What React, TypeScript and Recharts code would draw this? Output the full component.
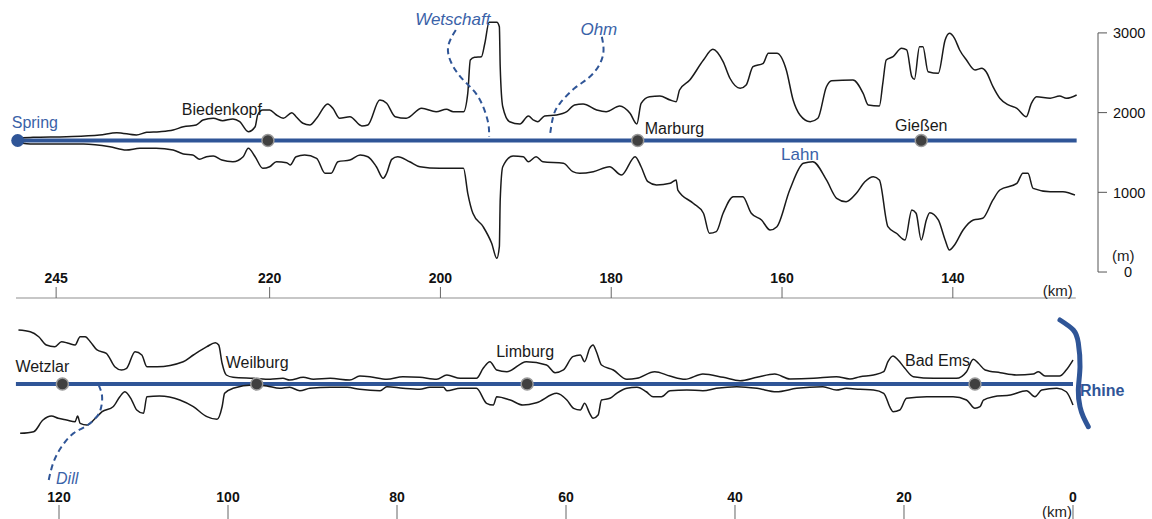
import { ComposedChart, Line, ReferenceDot, ReferenceLine, XAxis, YAxis } from 'recharts'

type Pt = [number, number] // [river km, metres]

const CENTER_M = 1650

// upper Lahn, km 249.5 (spring) down to km 125.5
const upperLeftBank: Pt[] = [
  [249.5, 1678], [247.7, 1690], [243.8, 1698], [239.9, 1719], [237.9, 1748], [235.6, 1719], [234.4, 1753],
  [232.9, 1761], [231.3, 1782], [230.1, 1823], [228.6, 1845], [227.8, 1907], [226.6, 1929], [225.5, 1899],
  [224.3, 1920], [223.5, 1886], [222.5, 1761], [221.7, 1823], [221.4, 1970], [220.8, 2033], [220.0, 2033],
  [219.2, 1970], [218.4, 1929], [217.4, 1999], [216.9, 1949], [216.1, 1866], [215.3, 1845], [214.5, 1929],
  [213.2, 2108], [212.6, 2054], [211.8, 1929], [210.6, 1949], [209.2, 1832], [208.5, 1845], [207.1, 2158],
  [206.3, 2117], [205.3, 1949], [204.0, 1929], [202.2, 2054], [200.5, 2011], [199.3, 2042], [198.5, 2011],
  [197.3, 2011], [196.8, 2242], [196.5, 2660], [196.0, 2694], [195.2, 2702], [194.8, 2870], [194.3, 3133],
  [193.4, 3133], [193.1, 3078], [193.0, 2576], [192.7, 2074], [191.9, 1886], [190.7, 1857], [189.7, 1958],
  [189.1, 1907], [188.6, 1886], [187.8, 1958], [186.4, 1970], [185.2, 2011], [184.3, 2096], [183.3, 2108],
  [181.7, 2033], [180.6, 2011], [179.0, 2083], [177.8, 1991], [177.0, 1857], [176.5, 2117], [175.5, 2200],
  [174.3, 2208], [173.1, 2158], [172.4, 2137], [172.0, 2284], [170.8, 2409], [169.2, 2660], [168.1, 2794],
  [166.9, 2639], [166.1, 2431], [164.9, 2305], [164.2, 2347], [163.4, 2576], [162.2, 2619], [161.6, 2744],
  [160.6, 2744], [159.5, 2535], [158.7, 2158], [157.9, 1970], [156.7, 1886], [155.8, 1929], [154.8, 2325],
  [154.2, 2400], [151.7, 2409], [150.5, 2242], [149.9, 2096], [148.6, 2083], [148.2, 2368], [147.8, 2660],
  [147.0, 2702], [146.0, 2807], [145.4, 2786], [144.8, 2451], [144.5, 2418], [143.9, 2827], [143.5, 2827],
  [142.9, 2513], [141.7, 2493], [140.9, 2911], [140.4, 2995], [139.8, 2932], [139.2, 2786], [138.4, 2660],
  [137.4, 2535], [136.6, 2556], [136.1, 2513], [135.3, 2325], [134.5, 2180], [133.5, 2096], [132.5, 2054],
  [131.4, 1949], [130.8, 2117], [130.2, 2200], [128.6, 2180], [127.5, 2208], [126.7, 2180], [125.5, 2221],
]

const upperRightBank: Pt[] = [
  [249.5, 1623], [247.7, 1606], [241.8, 1606], [238.7, 1572], [236.8, 1531], [235.2, 1552], [233.3, 1552],
  [231.3, 1531], [230.1, 1481], [229.0, 1468], [228.2, 1414], [227.4, 1447], [226.6, 1456], [225.6, 1405],
  [224.3, 1384], [223.1, 1447], [222.5, 1552], [221.7, 1447], [220.8, 1301], [220.0, 1321], [219.2, 1384],
  [218.0, 1372], [217.6, 1343], [216.9, 1447], [215.9, 1468], [214.5, 1427], [213.5, 1239], [212.8, 1239],
  [212.0, 1384], [210.6, 1405], [209.4, 1468], [208.5, 1447], [207.5, 1321], [206.7, 1176], [206.3, 1239],
  [205.7, 1414], [205.0, 1447], [203.6, 1384], [202.4, 1321], [200.1, 1301], [197.3, 1301], [196.8, 988],
  [196.2, 737], [195.0, 569], [194.0, 360], [193.4, 172], [193.1, 318], [193.0, 904], [192.7, 1321],
  [191.5, 1456], [190.3, 1447], [189.7, 1384], [188.8, 1447], [188.0, 1384], [185.6, 1364], [184.5, 1259],
  [183.7, 1239], [182.1, 1259], [180.2, 1321], [178.8, 1217], [177.2, 1447], [176.5, 1321], [175.7, 1133],
  [174.7, 1092], [173.1, 1113], [172.4, 1155], [172.2, 1029], [170.4, 862], [169.2, 737], [168.5, 486],
  [167.7, 506], [166.9, 737], [165.7, 945], [164.6, 945], [163.6, 737], [162.4, 653], [161.4, 527],
  [160.6, 569], [159.1, 1029], [157.5, 1364], [156.4, 1384], [154.8, 1155], [153.6, 925], [152.5, 882],
  [151.3, 988], [150.3, 1133], [149.3, 1196], [148.6, 1155], [147.6, 569], [146.6, 486], [145.6, 402],
  [144.8, 778], [144.3, 737], [143.7, 402], [143.1, 653], [142.7, 744], [141.7, 653], [140.9, 402],
  [140.4, 276], [139.8, 339], [138.8, 527], [137.6, 653], [136.5, 674], [135.3, 904], [134.5, 1029],
  [132.5, 1113], [131.8, 1239], [131.2, 1239], [130.6, 1050], [128.6, 1008], [127.1, 1008], [126.3, 988],
  [125.7, 966],
]

// lower Lahn, km 125 down to the Rhine
const lowerLeftBank: Pt[] = [
  [124.8, 2327], [123.4, 2306], [122.4, 2243], [121.5, 2139], [120.5, 2118], [119.7, 2181], [118.9, 2161],
  [118.1, 2139], [117.5, 2243], [116.9, 2243], [116.3, 2181], [115.5, 2077], [114.4, 2035], [113.4, 1867],
  [112.6, 1826], [112.0, 1847], [111.0, 2055], [110.2, 2014], [109.6, 1867], [108.4, 1867], [105.3, 1930],
  [104.1, 2014], [102.5, 2118], [101.5, 2168], [101.1, 2139], [100.7, 1910], [100.2, 1763], [99.4, 1734],
  [97.0, 1721], [95.0, 1709], [93.5, 1721], [92.7, 1700], [91.1, 1734], [89.9, 1709], [87.9, 1721],
  [85.6, 1700], [84.4, 1750], [83.2, 1742], [81.2, 1709], [79.3, 1742], [77.3, 1734], [75.3, 1709],
  [74.1, 1763], [72.5, 1721], [70.6, 1721], [69.8, 1847], [69.0, 1930], [68.2, 1826], [67.0, 1804],
  [64.7, 1930], [62.3, 1888], [61.3, 1792], [60.3, 1826], [59.2, 1993], [58.3, 2014], [57.8, 1930],
  [57.2, 2098], [56.8, 2139], [56.4, 2055], [55.8, 1888], [54.4, 1826], [52.8, 1709], [51.6, 1721],
  [49.5, 1804], [47.7, 1750], [45.9, 1709], [43.8, 1775], [41.4, 1734], [39.4, 1691], [37.4, 1734],
  [35.3, 1775], [33.5, 1713], [30.7, 1721], [28.0, 1742], [26.4, 1713], [25.2, 1742], [23.6, 1763],
  [22.4, 1804], [21.9, 1930], [21.3, 2001], [20.7, 1951], [19.9, 1847], [18.9, 1742], [16.5, 1721],
  [13.8, 1721], [12.6, 1804], [11.8, 1960], [11.2, 1910], [10.4, 1826], [8.6, 1792], [6.7, 1763],
  [4.7, 1775], [4.1, 1804], [3.3, 1750], [1.6, 1750], [0.8, 1826], [0.0, 1951],
]

const lowerRightBank: Pt[] = [
  [124.6, 1031], [123.0, 1052], [121.9, 1198], [120.9, 1248], [120.1, 1220], [119.1, 1198], [118.1, 1177],
  [117.8, 1248], [117.5, 1157], [116.7, 1136], [115.7, 1220], [114.9, 1303], [113.6, 1365], [112.8, 1491],
  [112.2, 1553], [111.4, 1449], [110.8, 1324], [110.0, 1282], [109.6, 1491], [108.1, 1499], [105.7, 1449],
  [104.1, 1365], [102.5, 1240], [101.3, 1207], [100.7, 1365], [100.4, 1533], [99.4, 1596], [97.0, 1637],
  [95.4, 1625], [93.9, 1596], [92.7, 1609], [91.5, 1566], [90.3, 1596], [87.9, 1609], [85.9, 1609],
  [84.4, 1583], [82.0, 1566], [81.2, 1616], [79.3, 1596], [77.3, 1583], [76.1, 1609], [74.5, 1609],
  [74.1, 1566], [72.5, 1596], [70.6, 1596], [69.4, 1408], [68.6, 1386], [68.2, 1491], [66.6, 1449],
  [65.1, 1386], [63.5, 1415], [61.1, 1533], [59.9, 1449], [59.1, 1345], [58.3, 1324], [57.8, 1408],
  [57.2, 1282], [56.8, 1220], [56.2, 1261], [55.8, 1449], [54.8, 1471], [54.0, 1533], [52.8, 1596],
  [51.6, 1609], [50.5, 1553], [49.7, 1491], [48.7, 1491], [47.7, 1566], [45.7, 1575], [43.8, 1566],
  [42.2, 1596], [39.8, 1616], [37.4, 1596], [35.1, 1553], [32.7, 1596], [29.6, 1616], [28.0, 1575],
  [26.8, 1596], [25.2, 1583], [23.6, 1575], [22.4, 1533], [21.6, 1345], [21.3, 1303], [20.5, 1324],
  [19.7, 1471], [17.3, 1491], [14.2, 1491], [12.6, 1449], [11.6, 1345], [11.0, 1365], [10.6, 1449],
  [9.4, 1491], [7.4, 1512], [5.5, 1566], [4.5, 1491], [3.7, 1575], [1.9, 1596], [0.8, 1553], [0.0, 1386],
]

// tributaries and the Rhine, drawn in the same km / m units
const wetschaft: Pt[] = [
  [198.2, 3036], [199.1, 2827], [198.7, 2619], [197.5, 2430], [196.0, 2262], [195.0, 2074], [194.4, 1866], [194.3, 1698],
]
const ohm: Pt[] = [
  [181.1, 2952], [180.9, 2785], [181.3, 2619], [182.5, 2450], [184.3, 2305], [186.0, 2117], [186.8, 1949], [187.2, 1698],
]
const dill: Pt[] = [
  [115.3, 1637], [114.9, 1490], [115.1, 1324], [115.7, 1220], [116.9, 1114], [118.3, 1031], [119.7, 863], [120.7, 655], [121.3, 404],
]
const rhine: Pt[] = [
  [1.54, 2453], [-0.04, 2328], [-0.63, 2165], [-0.83, 1867], [-0.63, 1575], [-0.83, 1365], [-1.22, 1240], [-1.81, 1114],
]

const SPRING_KM = 249.5
const UPPER_END_KM = 125.5
const LOWER_START_KM = 125.1
const MOUTH_KM = 0

const upperTicks = [245, 220, 200, 180, 160, 140]
const lowerTicks = [120, 100, 80, 60, 40, 20, 0]
const heightTicks = [0, 1000, 2000, 3000]

const upperTowns = [
  { name: 'Biedenkopf', km: 220.2 },
  { name: 'Marburg', km: 176.9 },
  { name: 'Gießen', km: 143.7 },
]
const lowerTowns = [
  { name: 'Wetzlar', km: 119.6 },
  { name: 'Weilburg', km: 96.6 },
  { name: 'Limburg', km: 64.6 },
  { name: 'Bad Ems', km: 11.6 },
]

const labelPos: Record<string, { dx: number; dy: number; anchor: string }> = {
  Biedenkopf: { dx: -6, dy: -26, anchor: 'end' },
  Marburg: { dx: 7, dy: -6.5, anchor: 'start' },
  Gießen: { dx: 0, dy: -10, anchor: 'middle' },
  Wetzlar: { dx: -47, dy: -12, anchor: 'start' },
  Weilburg: { dx: -31, dy: -16, anchor: 'start' },
  Limburg: { dx: -2, dy: -27, anchor: 'middle' },
  'Bad Ems': { dx: -5, dy: -18, anchor: 'end' },
}

const FONT = '"Liberation Sans", Arial, sans-serif'
const BLUE = '#2f5597'
const BLUE_TEXT = '#3a62a8'
const INK = '#1a1a1a'

const rows = (pts: Pt[]) => pts.map(([km, m]) => ({ km, m }))

type MarkOpts = {
  text?: string
  dx?: number
  dy?: number
  anchor?: string
  dot?: 'town' | 'spring'
  color?: string
  size?: number
  italic?: boolean
  bold?: boolean
}

function mark(o: MarkOpts) {
  return (p: any) => (
    <g>
      {o.dot === 'town' && <circle cx={p.cx} cy={p.cy} r={6} fill="#404040" stroke="#9a9a9a" strokeWidth={1.5} />}
      {o.dot === 'spring' && <circle cx={p.cx} cy={p.cy} r={6.5} fill={BLUE} />}
      {o.text && (
        <text
          x={p.cx + (o.dx ?? 0)}
          y={p.cy + (o.dy ?? 0)}
          textAnchor={o.anchor ?? 'middle'}
          fill={o.color ?? INK}
          fontSize={o.size ?? 16}
          fontStyle={o.italic ? 'italic' : 'normal'}
          fontWeight={o.bold ? 'bold' : 'normal'}
          fontFamily={FONT}
        >
          {o.text}
        </text>
      )}
    </g>
  )
}

// km ticks: top panel has its labels above the axis, ticks pointing up
function KmTickUp(props: any) {
  const { x, y, payload } = props
  return (
    <g>
      <line x1={x} x2={x} y1={y} y2={y - 11} stroke="#666" strokeWidth={1} />
      <text x={x} y={y - 15} textAnchor="middle" fontSize={14} fontWeight="bold" fill="#111" fontFamily={FONT}>
        {payload.value}
      </text>
    </g>
  )
}

// bottom panel: label on top, tick hanging below
function KmTickDown(props: any) {
  const { x, y, payload } = props
  return (
    <g>
      <line x1={x} x2={x} y1={y} y2={y + 14} stroke="#666" strokeWidth={1} />
      <text x={x} y={y - 3} textAnchor="middle" fontSize={14} fontWeight="bold" fill="#111" fontFamily={FONT}>
        {payload.value}
      </text>
    </g>
  )
}

function HeightTick(props: any) {
  const { x, y, payload } = props
  return (
    <text x={x + (payload.value === 0 ? 11 : 0)} y={y} dy="0.36em" textAnchor="start" fontSize={14.5} fill="#111" fontFamily={FONT}>
      {payload.value}
    </text>
  )
}

export default function App() {
  return (
    <div style={{ width: 1152, height: 519, fontFamily: FONT, background: '#fff' }}>
      <style>{'body{margin:0}'}</style>

      <ComposedChart width={1152} height={300} margin={{ top: 0, right: 0, bottom: 1, left: 16 }}>
        <XAxis
          type="number"
          dataKey="km"
          domain={[123.0, 249.7]}
          reversed
          allowDataOverflow
          ticks={upperTicks}
          interval={0}
          axisLine={false}
          tickLine={false}
          tickSize={0}
          tickMargin={0}
          height={1}
          tick={(p: any) => <KmTickUp {...p} />}
        />
        <YAxis
          orientation="right"
          type="number"
          domain={[-326, 3413]}
          allowDataOverflow
          ticks={heightTicks}
          interval={0}
          width={54}
          axisLine={false}
          tickLine={{ stroke: '#555' }}
          tickSize={9}
          tickMargin={6}
          tick={(p: any) => <HeightTick {...p} />}
        />

        <ReferenceLine
          segment={[{ x: 249.7, y: -326 }, { x: 125.6, y: -326 }]}
          stroke="#b5b5b5"
          strokeWidth={1.5}
          ifOverflow="visible"
        />
        <ReferenceLine
          segment={[{ x: 123.0, y: 0 }, { x: 123.0, y: 3000 }]}
          stroke="#555"
          strokeWidth={1}
          ifOverflow="visible"
        />
        <ReferenceLine
          segment={[{ x: SPRING_KM, y: CENTER_M }, { x: UPPER_END_KM, y: CENTER_M }]}
          stroke={BLUE}
          strokeWidth={4}
          ifOverflow="visible"
        />

        <Line data={rows(upperLeftBank)} dataKey="m" type="monotone" stroke={INK} strokeWidth={1.5} dot={false} isAnimationActive={false} />
        <Line data={rows(upperRightBank)} dataKey="m" type="monotone" stroke={INK} strokeWidth={1.5} dot={false} isAnimationActive={false} />
        <Line data={rows(wetschaft)} dataKey="m" type="natural" stroke={BLUE} strokeWidth={2} strokeDasharray="6 4" dot={false} isAnimationActive={false} />
        <Line data={rows(ohm)} dataKey="m" type="natural" stroke={BLUE} strokeWidth={2} strokeDasharray="6 4" dot={false} isAnimationActive={false} />

        <ReferenceDot x={SPRING_KM} y={CENTER_M} r={6} ifOverflow="visible"
          shape={mark({ dot: 'spring', text: 'Spring', dx: -6, dy: -12.5, anchor: 'start', color: BLUE_TEXT })} />
        {upperTowns.map((t) => (
          <ReferenceDot key={t.name} x={t.km} y={CENTER_M} r={6} ifOverflow="visible"
            shape={mark({ dot: 'town', text: t.name, ...labelPos[t.name] })} />
        ))}
        <ReferenceDot x={157.9} y={CENTER_M} r={1} ifOverflow="visible"
          shape={mark({ text: 'Lahn', dy: 19.6, color: BLUE_TEXT, size: 17 })} />
        <ReferenceDot x={wetschaft[0][0]} y={wetschaft[0][1]} r={1} ifOverflow="visible"
          shape={mark({ text: 'Wetschaft', dx: -3, dy: -5, color: BLUE_TEXT, size: 17, italic: true })} />
        <ReferenceDot x={ohm[0][0]} y={ohm[0][1]} r={1} ifOverflow="visible"
          shape={mark({ text: 'Ohm', dx: -3, dy: -1.5, color: BLUE_TEXT, size: 17, italic: true })} />
        <ReferenceDot x={125.6} y={-326} r={1} ifOverflow="visible"
          shape={mark({ text: '(km)', dx: -3, dy: -2, anchor: 'end', size: 15, color: '#222' })} />
        <ReferenceDot x={123.0} y={0} r={1} ifOverflow="visible"
          shape={mark({ text: '(m)', dx: 14, dy: -11, anchor: 'start', size: 15, color: '#222' })} />
      </ComposedChart>

      <ComposedChart width={1152} height={219} margin={{ top: 0, right: 12, bottom: 13, left: 16 }}>
        <XAxis
          type="number"
          dataKey="km"
          domain={[-7.93, 125.09]}
          reversed
          allowDataOverflow
          ticks={lowerTicks}
          interval={0}
          axisLine={false}
          tickLine={false}
          tickSize={0}
          tickMargin={0}
          height={1}
          tick={(p: any) => <KmTickDown {...p} />}
        />
        <YAxis hide type="number" domain={[132, 2704]} allowDataOverflow />

        <ReferenceLine
          segment={[{ x: LOWER_START_KM, y: CENTER_M }, { x: MOUTH_KM, y: CENTER_M }]}
          stroke={BLUE}
          strokeWidth={4}
          ifOverflow="visible"
        />

        <Line data={rows(lowerLeftBank)} dataKey="m" type="monotone" stroke={INK} strokeWidth={1.5} dot={false} isAnimationActive={false} />
        <Line data={rows(lowerRightBank)} dataKey="m" type="monotone" stroke={INK} strokeWidth={1.5} dot={false} isAnimationActive={false} />
        <Line data={rows(dill)} dataKey="m" type="natural" stroke={BLUE} strokeWidth={2} strokeDasharray="6 4" dot={false} isAnimationActive={false} />
        <Line data={rows(rhine)} dataKey="m" type="natural" stroke={BLUE} strokeWidth={5} strokeLinecap="round" dot={false} isAnimationActive={false} />

        {lowerTowns.map((t) => (
          <ReferenceDot key={t.name} x={t.km} y={CENTER_M} r={6} ifOverflow="visible"
            shape={mark({ dot: 'town', text: t.name, ...labelPos[t.name] })} />
        ))}
        <ReferenceDot x={dill[dill.length - 1][0]} y={dill[dill.length - 1][1]} r={1} ifOverflow="visible"
          shape={mark({ text: 'Dill', dx: 8, dy: 1, anchor: 'start', color: BLUE_TEXT, size: 16, italic: true })} />
        <ReferenceDot x={-0.83} y={CENTER_M} r={1} ifOverflow="visible"
          shape={mark({ text: 'Rhine', dx: 0, dy: 12, anchor: 'start', color: BLUE, size: 16, bold: true })} />
        <ReferenceDot x={MOUTH_KM} y={132} r={1} ifOverflow="visible"
          shape={mark({ text: '(km)', dx: -1, dy: 12, anchor: 'end', size: 15, color: '#222' })} />
      </ComposedChart>
    </div>
  )
}
